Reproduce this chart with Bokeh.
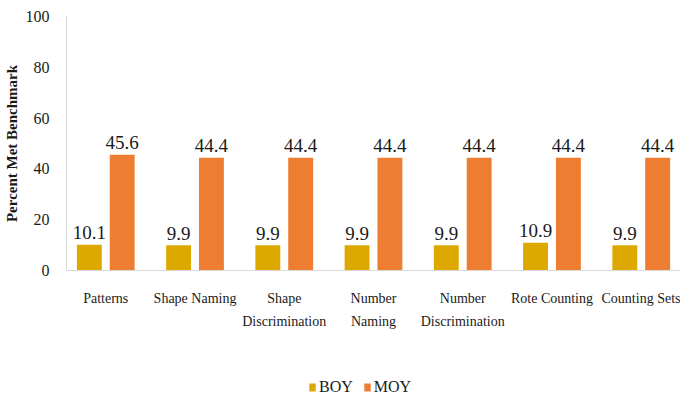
from bokeh.plotting import figure
from bokeh.models import ColumnDataSource, Legend, LegendItem, FactorRange
from bokeh.layouts import column
from bokeh.transform import dodge
from bokeh.embed import file_html
from bokeh.resources import INLINE

categories = ["Patterns", "Shape Naming", "Shape\nDiscrimination", "Number\nNaming",
              "Number\nDiscrimination", "Rote Counting", "Counting Sets"]
boy = [10.1, 9.9, 9.9, 9.9, 9.9, 10.9, 9.9]
moy = [45.6, 44.4, 44.4, 44.4, 44.4, 44.4, 44.4]
y_ticks = [0, 20, 40, 60, 80, 100]
series = ["BOY", "MOY"]

BOY_COLOR = "#DDA800"
MOY_COLOR = "#ED7D31"
FONT = '"Liberation Serif"'
TXT = "#1a1a1a"

src = ColumnDataSource(dict(
    cat=categories, boy=boy, moy=moy,
    boy_lbl=[f"{v:.1f}" for v in boy],
    moy_lbl=[f"{v:.1f}" for v in moy],
))

xr = FactorRange(factors=categories, range_padding=-0.06, range_padding_units="absolute")
p = figure(x_range=xr, y_range=(0, 100), width=680, height=352,
           output_backend="svg", toolbar_location=None,
           min_border_left=62, min_border_right=0, min_border_top=16, min_border_bottom=82)
p.outline_line_color = None
p.grid.visible = False

p.vbar(x=dodge("cat", -0.184, range=p.x_range), top="boy", width=0.279, source=src,
       fill_color=BOY_COLOR, line_color=None)
p.vbar(x=dodge("cat", 0.184, range=p.x_range), top="moy", width=0.279, source=src,
       fill_color=MOY_COLOR, line_color=None)

for col, lbl, off in (("boy", "boy_lbl", -0.184), ("moy", "moy_lbl", 0.184)):
    p.text(x=dodge("cat", off, range=p.x_range), y=col, text=lbl, source=src,
           text_align="center", text_baseline="alphabetic", y_offset=-12,
           text_font={"value": FONT}, text_font_size="19px", text_color=TXT)

p.yaxis.ticker = y_ticks
p.yaxis.axis_line_color = "#d9d9d9"
p.yaxis.major_tick_line_color = None
p.yaxis.minor_tick_line_color = None
p.yaxis.major_label_text_font = FONT
p.yaxis.major_label_text_font_size = "16px"
p.yaxis.major_label_text_color = TXT
p.yaxis.major_label_standoff = 11
p.yaxis.axis_label = "Percent Met Benchmark"
p.yaxis.axis_label_text_font = FONT
p.yaxis.axis_label_text_font_size = "15px"
p.yaxis.axis_label_text_font_style = "bold"
p.yaxis.axis_label_text_color = TXT
p.yaxis.axis_label_standoff = 3

p.xaxis.axis_line_color = "#d9d9d9"
p.xaxis.major_tick_line_color = None
p.xaxis.minor_tick_line_color = None
p.xaxis.major_label_text_font = FONT
p.xaxis.major_label_text_font_size = "14px"
p.xaxis.major_label_text_color = TXT
p.xaxis.major_label_standoff = 14
p.xaxis.major_label_text_line_height = 1.55

# legend in a small strip below the chart
lf = figure(x_range=(0, 1), y_range=(0, 1), width=680, height=44,
            output_backend="svg", toolbar_location=None,
            min_border_left=0, min_border_right=0, min_border_top=0, min_border_bottom=0)
lf.axis.visible = False
lf.grid.visible = False
lf.outline_line_color = None
hidden = ColumnDataSource(dict(x=[0.5], top=[0]))
rb = lf.vbar(x="x", top="top", width=0.01, source=hidden, fill_color=BOY_COLOR, line_color=None)
rm = lf.vbar(x="x", top="top", width=0.01, source=hidden, fill_color=MOY_COLOR, line_color=None)
legend = Legend(items=[LegendItem(label=series[0], renderers=[rb]),
                       LegendItem(label=series[1], renderers=[rm])],
                location=(242, 0), orientation="horizontal",
                glyph_width=8, glyph_height=10, label_standoff=3, spacing=10,
                label_height=16, padding=0, margin=0,
                border_line_color=None, background_fill_alpha=0,
                label_text_font=FONT, label_text_font_size="16px", label_text_color=TXT)
lf.add_layout(legend)

layout = column(p, lf, spacing=0)
open("out.html", "w").write(file_html(layout, INLINE))
